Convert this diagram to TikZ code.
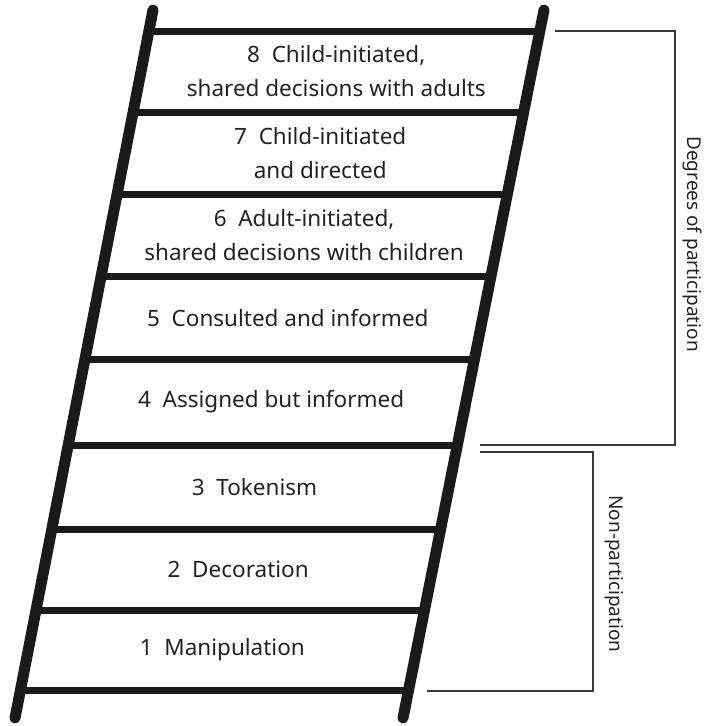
\documentclass[tikz,border=0pt]{standalone}
\usepackage{fontspec}
\setmainfont{Noto Sans}
\usetikzlibrary{calc}
\definecolor{inkc}{HTML}{1A1A1A}
\definecolor{txtc}{HTML}{222222}
\definecolor{brc}{HTML}{3A3A3A}
\tikzset{
  rail/.style={draw=inkc, line width=11pt, line cap=round},
  rung/.style={draw=inkc, line width=7pt},
  steplabel/.style={text=txtc, align=center, font=\fontsize{22.5}{34}\selectfont, inner sep=0pt},
  bracketline/.style={draw=brc, line width=1.3pt},
  sidelabel/.style={text=txtc, font=\fontsize{19}{23}\selectfont, rotate=-90, inner sep=0pt}
}
\begin{document}
\begin{tikzpicture}[x=1pt,y=-1pt]
\useasboundingbox (0,0) rectangle (709,726);
% rails
\coordinate (LT) at (153,10);
\coordinate (LB) at (15,718);
\coordinate (RT) at (544,10);
\coordinate (RB) at (403,718);
\draw[rail] (LT) -- (LB);
\draw[rail] (RT) -- (RB);
% rungs (0 = top ... 8 = bottom)
\foreach \i/\t in {0/0.02966,1/0.14407,2/0.25989,3/0.37571,4/0.49294,5/0.61441,6/0.73305,7/0.84746,8/0.96045}{
  \coordinate (L\i) at ($(LT)!\t!(LB)$);
  \coordinate (R\i) at ($(RT)!\t!(RB)$);
  \draw[rung] (L\i) -- (R\i);
}
% labels
\node[steplabel] (s8) at ($(L0)!0.5!(R1)$) {8\ \ Child-initiated,\\shared decisions with adults};
\node[steplabel] (s7) at ($(L1)!0.5!(R2)$) {7\ \ Child-initiated\\and directed};
\node[steplabel] (s6) at ($(L2)!0.5!(R3)$) {6\ \ Adult-initiated,\\shared decisions with children};
\node[steplabel] (s5) at ($(L3)!0.5!(R4)$) {5\ \ Consulted and informed};
\node[steplabel] (s4) at ($(L4)!0.5!(R5)$) {4\ \ Assigned but informed};
\node[steplabel] (s3) at ($(L5)!0.5!(R6)$) {3\ \ Tokenism};
\node[steplabel] (s2) at ($(L6)!0.5!(R7)$) {2\ \ Decoration};
\node[steplabel] (s1) at ($(L7)!0.5!(R8)$) {1\ \ Manipulation};
% brackets
\coordinate (A1) at (555,31);
\coordinate (A2) at (675,31);
\coordinate (A3) at (675,445);
\coordinate (A4) at (480,445);
\draw[bracketline] (A1) -- (A2) -- (A3) -- (A4);
\node[sidelabel] (deg) at (692,244) {Degrees of participation};
\coordinate (B1) at (480,452);
\coordinate (B2) at (593,452);
\coordinate (B3) at (593,691);
\coordinate (B4) at (427,691);
\draw[bracketline] (B1) -- (B2) -- (B3) -- (B4);
\node[sidelabel] (non) at (614,574) {Non-participation};
\end{tikzpicture}
\end{document}
